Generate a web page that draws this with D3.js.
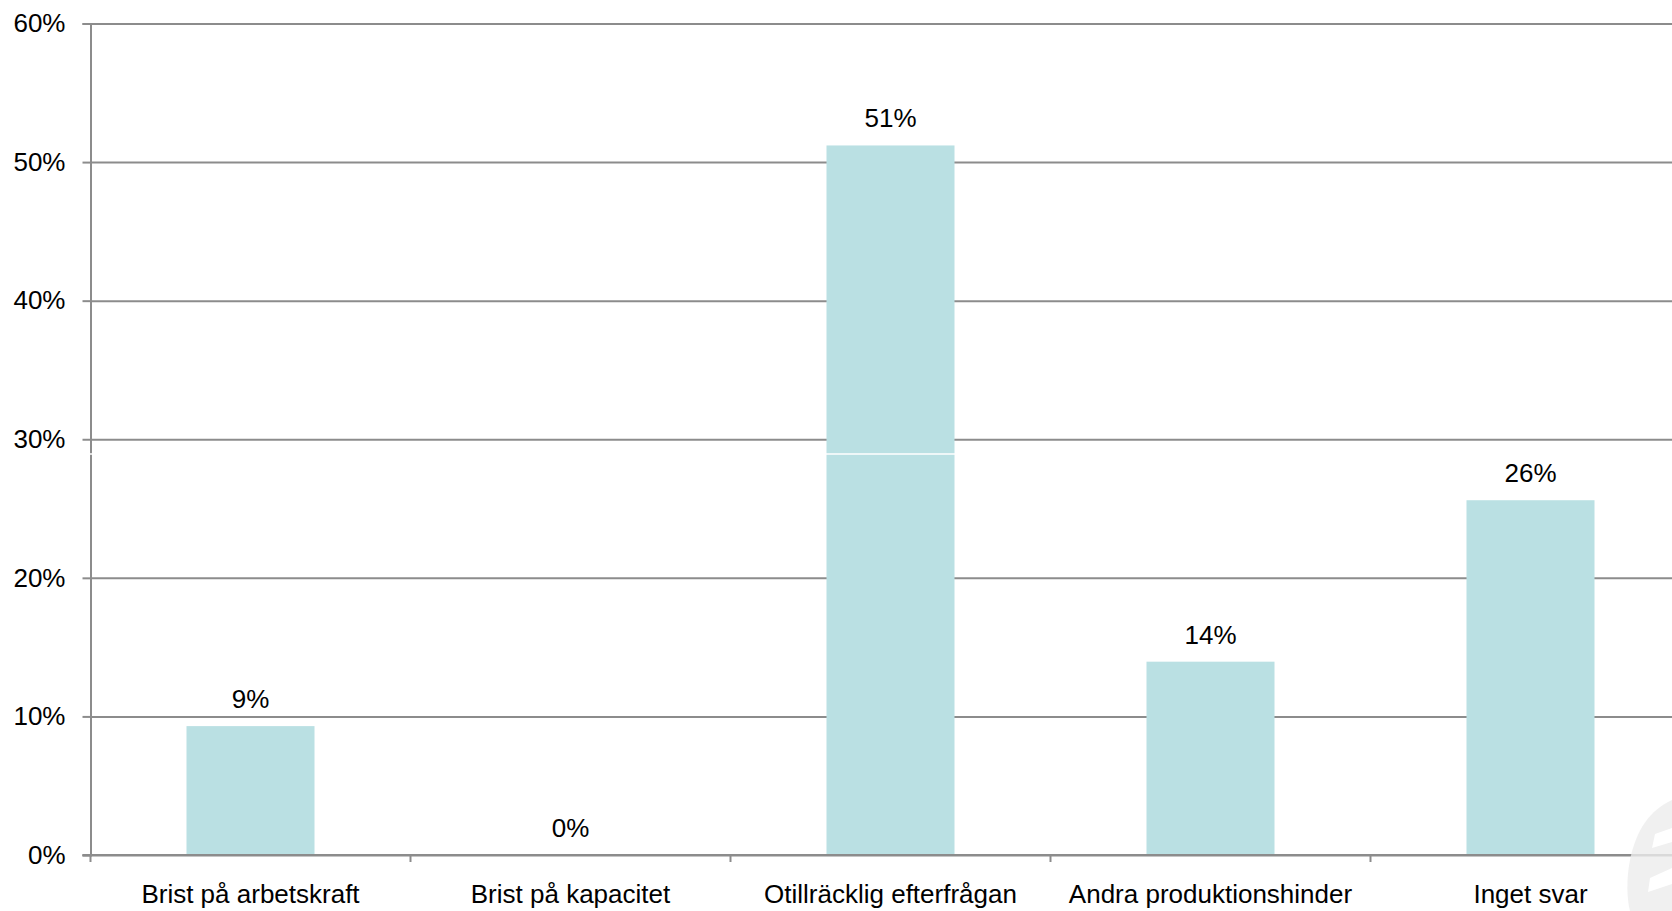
<!DOCTYPE html>
<html>
<head>
<meta charset="utf-8">
<script src="https://cdn.jsdelivr.net/npm/d3@7"></script>
<style>
html,body{margin:0;padding:0;background:#fff;overflow:hidden;}
svg{display:block;font-family:"Liberation Sans",Arial,Helvetica,sans-serif;}
</style>
</head>
<body>
<svg id="chart" width="1672" height="911"></svg>
<script>
const categories = ["Brist på arbetskraft","Brist på kapacitet","Otillräcklig efterfrågan","Andra produktionshinder","Inget svar"];
const values = [0.093, 0.0, 0.512, 0.1395, 0.256];
const valueLabels = ["9%","0%","51%","14%","26%"];
const yTicks = [0,0.1,0.2,0.3,0.4,0.5,0.6];

const svg = d3.select("#chart");
const x0 = 90.5, x1 = 1690.5, yBottom = 855, yTop = 23.5;

const x = d3.scaleBand().domain(categories).range([x0, x1]).paddingInner(0.6).paddingOuter(0.3);
const xOuter = d3.scaleBand().domain(categories).range([x0, x1]).padding(0);
const y = d3.scaleLinear().domain([0, 0.6]).range([yBottom, yTop]);

const fmt = d3.format(".0%");

// gridlines
const grid = svg.append("g").attr("transform", `translate(${x0},0)`)
  .call(d3.axisLeft(y).tickValues(yTicks).tickSize(-(1672 - x0)).tickFormat(""));
grid.select(".domain").remove();
grid.selectAll("line").attr("stroke", "#8c8c8c").attr("stroke-width", 2);

// y axis: outward ticks & labels
const yAxis = svg.append("g").attr("transform", `translate(${x0},0)`)
  .call(d3.axisLeft(y).tickValues(yTicks).tickSize(8).tickPadding(17).tickFormat(fmt));
yAxis.select(".domain").attr("stroke", "#8c8c8c").attr("stroke-width", 2);
yAxis.selectAll("line").attr("stroke", "#8c8c8c").attr("stroke-width", 2);
yAxis.selectAll("text").attr("font-size", 26).attr("fill", "#000")
  .attr("font-family", "Liberation Sans, Arial, sans-serif");

// bars
svg.append("g").selectAll("rect").data(values).join("rect")
  .attr("x", (d, i) => x(categories[i]))
  .attr("width", x.bandwidth())
  .attr("y", d => y(d))
  .attr("height", d => yBottom - y(d))
  .attr("fill", "#bae0e3");

// tile seam artifact
svg.append("line").attr("x1", 0).attr("x2", 1672).attr("y1", 454).attr("y2", 454)
  .attr("stroke", "#fff").attr("stroke-width", 1.5);

// bottom axis
const boundaries = categories.map(c => xOuter(c)).concat([x1]);
const xAxis = svg.append("g");
xAxis.append("line").attr("x1", x0 - 8).attr("x2", 1672).attr("y1", yBottom).attr("y2", yBottom)
  .attr("stroke", "#8c8c8c").attr("stroke-width", 2);
xAxis.selectAll("line.tick").data(boundaries).join("line").attr("class", "tick")
  .attr("x1", d => d).attr("x2", d => d).attr("y1", yBottom).attr("y2", yBottom + 7)
  .attr("stroke", "#8c8c8c").attr("stroke-width", 2);
xAxis.selectAll("text").data(categories).join("text")
  .attr("x", d => x(d) + x.bandwidth() / 2)
  .attr("y", 903)
  .attr("text-anchor", "middle")
  .attr("font-size", 26)
  .attr("fill", "#000")
  .text(d => d);

// value labels
svg.append("g").selectAll("text").data(values).join("text")
  .attr("x", (d, i) => x(categories[i]) + x.bandwidth() / 2)
  .attr("y", d => y(d) - 18)
  .attr("text-anchor", "middle")
  .attr("font-size", 26)
  .attr("fill", "#000")
  .text((d, i) => valueLabels[i]);

// faint watermark in the corner
svg.append("path")
  .attr("d", "M1672,800 C1650,810 1636,830 1630,860 C1626,880 1627,900 1630,911 L1672,911 Z")
  .attr("fill", "#ececec").attr("opacity", 0.8);
svg.append("path")
  .attr("d", "M1672,828 L1655,834 L1652,848 L1672,842 Z M1672,868 L1650,878 L1648,892 L1672,884 Z")
  .attr("fill", "#fff");
</script>
</body>
</html>
